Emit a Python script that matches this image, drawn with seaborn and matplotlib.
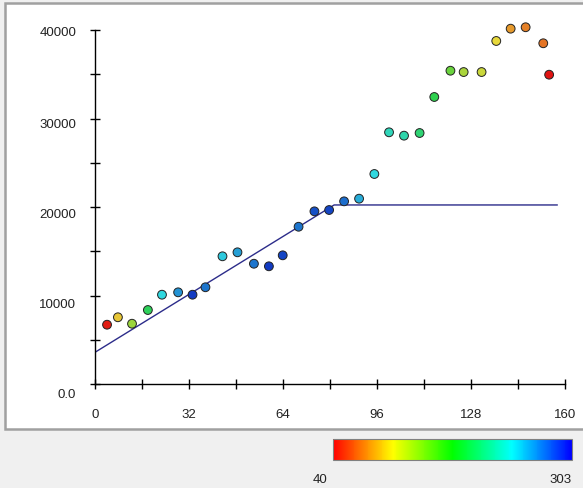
import numpy as np
import pandas as pd
import seaborn as sns
import matplotlib.pyplot as plt
import matplotlib.ticker as mticker
import matplotlib.transforms as mtransforms
from matplotlib.colors import LinearSegmentedColormap, Normalize
from matplotlib.cm import ScalarMappable
from matplotlib.patches import Rectangle

# values
x_vals = [4.1, 7.8, 12.6, 18.0, 22.8, 28.3, 33.2, 37.6, 43.4, 48.5, 54.1, 59.2, 63.9, 69.3, 74.7, 79.7,
          84.8, 89.9, 95.1, 100.1, 105.2, 110.5, 115.5, 121.0, 125.5, 131.6, 136.6, 141.5, 146.6, 152.6, 154.6]
y_vals = [6700, 7540, 6810, 8360, 10090, 10360, 10090, 10930, 14430, 14880, 13590, 13300, 14540, 17770, 19510, 19660,
          20640, 20940, 23730, 28440, 28060, 28360, 32430, 35400, 35250, 35250, 38760, 40150, 40310, 38500, 34950]
c_vals = [45, 100, 133, 182, 237, 264, 298, 276, 243, 259, 276, 298, 294, 276, 290, 294,
          279, 254, 237, 221, 215, 193, 177, 150, 128, 117, 106, 86, 78, 73, 42]

# piecewise fit line
fit_x = [0, 81.4, 157.4]
fit_y = [3580, 20230, 20230]

c_min, c_max = 40, 303
x_ticks = list(range(0, 161, 16))
x_labels = [str(t) if t % 32 == 0 else '' for t in x_ticks]
y_ticks = [0, 10000, 20000, 30000, 40000]
y_labels = ['0.0', '10000', '20000', '30000', '40000']

df = pd.DataFrame({'x': x_vals, 'y': y_vals, 'c': c_vals})
fit_df = pd.DataFrame({'x': fit_x, 'y': fit_y})

sns.set_style('white')
plt.rcParams['font.family'] = ['Liberation Sans', 'DejaVu Sans']
plt.rcParams['font.size'] = 9.5

cmap = LinearSegmentedColormap.from_list('spec', ['#ff0000', '#ffff00', '#00ff00', '#00ffff', '#0000ff'])
# points look a little duller than the scale bar
pt_cmap = LinearSegmentedColormap.from_list('spec_pts', ['#e01010', '#e8d83a', '#2ed040', '#30d8e0', '#1030c0'])
norm = Normalize(c_min, c_max)

fig = plt.figure(figsize=(5.83, 4.89), dpi=100)
fig.patch.set_facecolor('#f0f0f0')
# white panel with frame
fig.patches.append(Rectangle((5 / 583, 1 - 430 / 489), 1, 426 / 489, transform=fig.transFigure,
                             facecolor='white', edgecolor='#a0a0a0', linewidth=1.8, zorder=-10))

ax = fig.add_axes([95 / 583, 1 - 385 / 489, 470 / 583, 354 / 489])
ax.patch.set_alpha(0)

sns.lineplot(data=fit_df, x='x', y='y', ax=ax, color='#2c2c8a', linewidth=1, estimator=None, sort=False)
sns.scatterplot(data=df, x='x', y='y', hue='c', palette=pt_cmap, hue_norm=norm, ax=ax,
                s=40, edgecolor='#222222', linewidth=0.7, legend=False, clip_on=False, zorder=3)

ax.set_xlim(0, 160)
ax.set_ylim(0, 40000)
for s in ['top', 'right']:
    ax.spines[s].set_visible(False)
for s in ['left', 'bottom']:
    ax.spines[s].set_color('black')
    ax.spines[s].set_linewidth(1)

ax.set_xticks(x_ticks)
ax.set_xticklabels(x_labels)
ax.set_yticks(y_ticks)
ax.set_yticklabels(y_labels)
ax.yaxis.set_minor_locator(mticker.MultipleLocator(5000))
ax.tick_params(axis='both', which='both', direction='inout', length=7, width=1,
               color='black', labelcolor='#222222', bottom=True, left=True)
ax.tick_params(axis='x', pad=14)
ax.tick_params(axis='y', pad=10)
ax.set_xlabel('')
ax.set_ylabel('')

# the y labels sit a bit lower the closer they are to zero
for lab, dy in zip(ax.get_yticklabels(), [9, 7, 5.5, 4, 1]):
    lab.set_transform(lab.get_transform() + mtransforms.ScaledTranslation(0, -dy / 100, fig.dpi_scale_trans))

# colour scale
cax = fig.add_axes([333 / 583, 1 - 461 / 489, 239 / 583, 21 / 489])
cb = fig.colorbar(ScalarMappable(norm=norm, cmap=cmap), cax=cax, orientation='horizontal')
cb.set_ticks([])
cb.outline.set_edgecolor('#808080')
cb.outline.set_linewidth(0.8)
fig.text(320 / 583, 1 - 480 / 489, str(c_min), ha='center', va='center', color='#222222')
fig.text(572 / 583, 1 - 480 / 489, str(c_max), ha='right', va='center', color='#222222')

fig.savefig('out.png', dpi=100, facecolor=fig.get_facecolor())
